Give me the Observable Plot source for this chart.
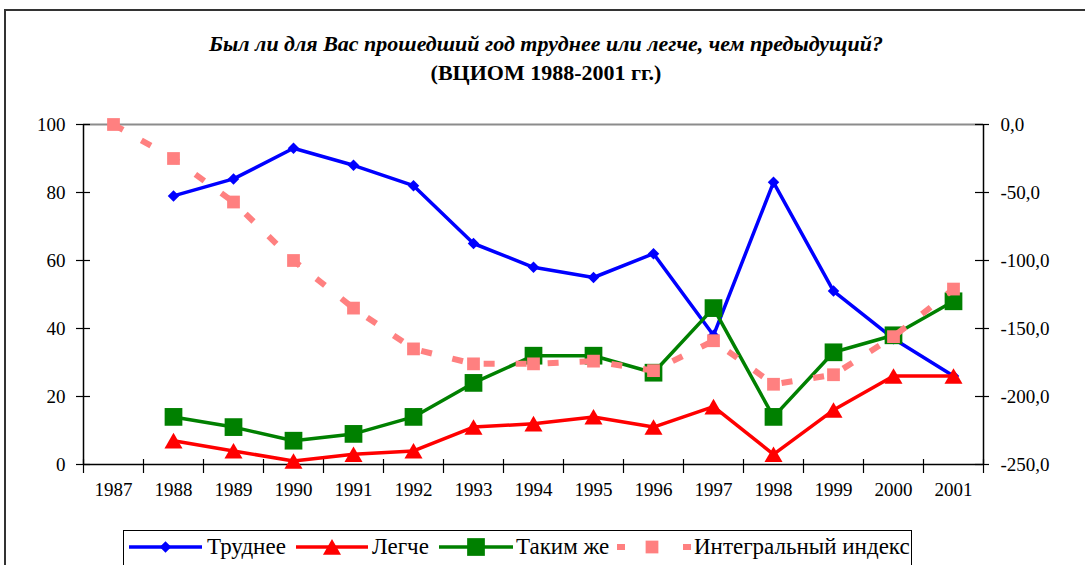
<!DOCTYPE html>
<html>
<head>
<meta charset="utf-8">
<script src="https://cdn.jsdelivr.net/npm/d3@7"></script>
<script src="https://cdn.jsdelivr.net/npm/@observablehq/plot@0.6"></script>
<style>
  html, body { margin: 0; padding: 0; background: #fff; }
  #chart { position: relative; width: 1085px; height: 565px; overflow: hidden; background: #fff;
           font-family: 'Liberation Serif', 'Liberation Sans', sans-serif; color: #000; }
  #plot { position: absolute; left: 0; top: 0; }
  .frame-top { position: absolute; left: 4px; top: 9px; width: 1081px; height: 2px; background: #333; z-index: 5; }
  .frame-left { position: absolute; left: 4px; top: 9px; width: 2px; height: 556px; background: #333; z-index: 5; }
  .title { position: absolute; left: 0; width: 1092px; text-align: center; font-weight: bold;
           font-size: 22px; line-height: 22px; white-space: nowrap; z-index: 5; }
  #legend-box { position: absolute; left: 123px; top: 530px; width: 789px; height: 60px;
                border: 1px solid #000; box-sizing: border-box; z-index: 5; background: #fff; }
  #legend-svg { position: absolute; left: 0; top: 0; z-index: 6; }
  .lt { position: absolute; font-size: 23px; line-height: 23px; white-space: nowrap; z-index: 7; top: 535px; }
</style>
</head>
<body>
<div id="chart">
  <div id="plot"></div>
  <div class="frame-top"></div>
  <div class="frame-left"></div>
  <div class="title" style="top:33px;font-style:italic;">Был ли для Вас прошедший год труднее или легче, чем предыдущий?</div>
  <div class="title" style="top:62px;">(ВЦИОМ 1988-2001 гг.)</div>
  <div id="legend-box"></div>
</div>
<script>
// ---- Data ----
const allYears = [1987, 1988, 1989, 1990, 1991, 1992, 1993, 1994, 1995, 1996, 1997, 1998, 1999, 2000, 2001];
const surveyYears = [1988, 1989, 1990, 1991, 1992, 1993, 1994, 1995, 1996, 1997, 1998, 1999, 2000, 2001];
const harder = [79, 84, 93, 88, 82, 65, 58, 55, 62, 38, 83, 51, 37, 26];   // Труднее
const easier = [7, 4, 1, 3, 4, 11, 12, 14, 11, 17, 3, 16, 26, 26];          // Легче
const same   = [14, 11, 7, 9, 14, 24, 32, 32, 27, 46, 14, 33, 38, 48];      // Таким же
const integral = [0, -25, -57, -100, -135, -165, -176, -176, -174, -181, -159, -191, -184, -156, -121]; // Интегральный индекс (right axis)
const leftTicks = [0, 20, 40, 60, 80, 100];
const rightTicks = [0, -50, -100, -150, -200, -250];
const seriesNames = ["Труднее", "Легче", "Таким же", "Интегральный индекс"];
const seriesColors = ["#0000FF", "#FF0000", "#008000", "#FF8080"];

const FONT = "'Liberation Serif', 'Liberation Sans', sans-serif";
// secondary axis mapping (right scale -250..0 onto primary 0..100)
const yRight = d3.scaleLinear([-250, 0], [0, 100]);

const rows = (ys, vs) => ys.map((x, i) => ({x, y: vs[i]}));
const dHarder = rows(surveyYears, harder);
const dEasier = rows(surveyYears, easier);
const dSame = rows(surveyYears, same);
const dIntegral = allYears.map((x, i) => ({x, y: yRight(integral[i])}));
const boundaries = [...allYears.map(y => y - 0.5), 2001.5];

const H = 520;
const fmtR = v => (Math.round(v * 10) / 10).toFixed(1).replace(".", ",");
const X0 = 1986.5, X1 = 2001.5;

const plot = Plot.plot({
  width: 1085,
  height: H,
  marginLeft: 83,
  marginRight: 102,
  marginTop: 124,
  marginBottom: H - 464,
  x: {type: "linear", domain: [X0, X1]},
  y: {domain: [0, 100]},
  style: {fontFamily: FONT, fontSize: "19px", color: "#000", background: "transparent", overflow: "visible"},
  marks: [
    Plot.ruleY([100], {stroke: "#8c8c8c", strokeWidth: 2}),
    Plot.ruleX([X0, X1], {stroke: "#000", strokeWidth: 1.5}),
    Plot.ruleY([0], {stroke: "#000", strokeWidth: 1.5}),
    // cross ticks
    Plot.ruleY(leftTicks, {y: d => d, x1: X0, x2: X0, insetLeft: -7, insetRight: -7, stroke: "#000", strokeWidth: 1.2}),
    Plot.ruleY(rightTicks.map(v => yRight(v)), {y: d => d, x1: X1, x2: X1, insetLeft: -8, insetRight: -6, stroke: "#000", strokeWidth: 1.2}),
    Plot.ruleX(boundaries, {x: d => d, y1: 0, y2: 0, insetTop: -5, insetBottom: -9, stroke: "#000", strokeWidth: 1.2}),
    // axes labels
    Plot.axisY(leftTicks, {anchor: "left", tickSize: 0, tickPadding: 18, tickFormat: d => String(d), label: null, fill: "#000", fontFamily: FONT}),
    Plot.axisY(rightTicks.map(v => yRight(v)), {anchor: "right", tickSize: 0, tickPadding: 17, tickFormat: d => fmtR(yRight.invert(d)), label: null, fill: "#000", fontFamily: FONT}),
    Plot.axisX(allYears, {anchor: "bottom", tickSize: 0, tickPadding: 18, tickFormat: d => String(d), label: null, fill: "#000", fontFamily: FONT}),
    // Труднее
    Plot.line(dHarder, {x: "x", y: "y", stroke: seriesColors[0], strokeWidth: 3.5, strokeLinejoin: "miter"}),
    Plot.dot(dHarder, {x: "x", y: "y", symbol: "diamond2", r: 5.2, fill: seriesColors[0], stroke: "none"}),
    // Легче
    Plot.line(dEasier, {x: "x", y: "y", stroke: seriesColors[1], strokeWidth: 3.5, strokeLinejoin: "miter"}),
    Plot.dot(dEasier, {x: "x", y: "y", symbol: "triangle", r: 6.7, dy: 2.5, fill: seriesColors[1], stroke: "none"}),
    // Таким же
    Plot.line(dSame, {x: "x", y: "y", stroke: seriesColors[2], strokeWidth: 3.5, strokeLinejoin: "miter"}),
    Plot.dot(dSame, {x: "x", y: "y", symbol: "square", r: 10, fill: seriesColors[2], stroke: "none"}),
    // Интегральный индекс
    Plot.line(dIntegral, {x: "x", y: "y", stroke: seriesColors[3], strokeWidth: 6, strokeDasharray: "11,21", strokeLinecap: "butt", strokeLinejoin: "miter"}),
    Plot.dot(dIntegral, {x: "x", y: "y", symbol: "square", r: 7.2, fill: seriesColors[3], stroke: "none"})
  ]
});
document.getElementById("plot").appendChild(plot);

// ---- Legend ----
const chart = document.getElementById("chart");
const lsvg = d3.select(chart).append("svg").attr("id", "legend-svg").attr("width", 1085).attr("height", 565);
const ly = 547;
const legendItems = [
  {x1: 129, x2: 202, text: 207, sym: d3.symbolDiamond2, size: 5.2 * 5.2 * Math.PI, dash: null, w: 3.5, dy: 0},
  {x1: 296, x2: 368, text: 372, sym: d3.symbolTriangle, size: 6.7 * 6.7 * Math.PI, dash: null, w: 3.5, dy: 2.5},
  {x1: 439, x2: 513, text: 516, sym: d3.symbolSquare, size: 10 * 10 * Math.PI, dash: null, w: 3.5, dy: 0},
  {x1: 617, x2: 691, text: 694, sym: d3.symbolSquare, size: 7.2 * 7.2 * Math.PI, dash: "8,25", w: 6, dy: 0}
];
legendItems.forEach((it, i) => {
  const c = seriesColors[i];
  const ln = lsvg.append("line").attr("x1", it.x1).attr("x2", it.x2).attr("y1", ly).attr("y2", ly)
    .attr("stroke", c).attr("stroke-width", it.w);
  if (it.dash) ln.attr("stroke-dasharray", it.dash);
  const cx = (it.x1 + it.x2) / 2 + (it.dash ? -2 : 0);
  lsvg.append("path").attr("d", d3.symbol(it.sym, it.size)()).attr("fill", c)
    .attr("transform", `translate(${cx},${ly + it.dy})`);
  const t = document.createElement("div");
  t.className = "lt";
  t.style.left = it.text + "px";
  t.textContent = seriesNames[i];
  chart.appendChild(t);
});
</script>
</body>
</html>
